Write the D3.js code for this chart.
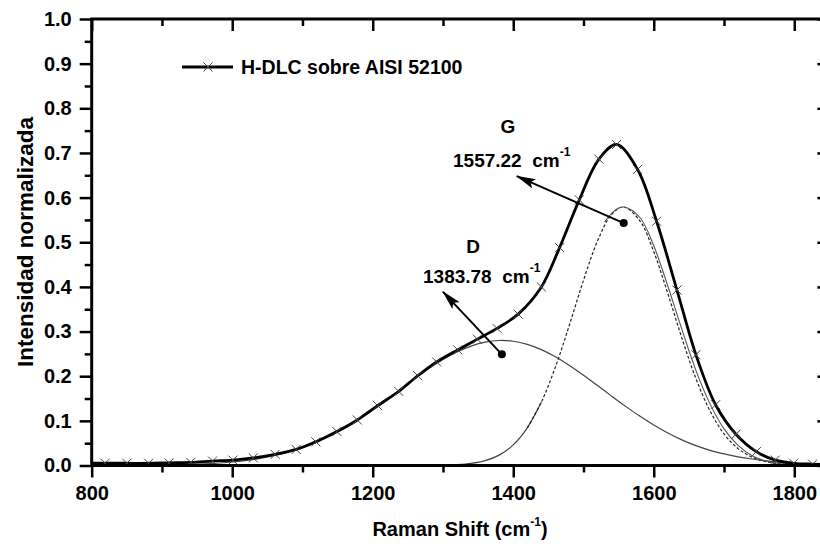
<!DOCTYPE html>
<html>
<head>
<meta charset="utf-8">
<script src="https://cdn.jsdelivr.net/npm/d3@7"></script>
<style>
  body { margin: 0; background: #fff; }
  svg { display: block; }
  text { font-family: "Liberation Sans", Arial, sans-serif; font-weight: bold; fill: #000; }
</style>
</head>
<body>
<svg id="chart" width="820" height="544"></svg>
<script>
// Measured Raman spectrum (normalised), one entry per plotted point
const ramanShift = [790, 819, 850, 881, 910, 941, 972, 1001, 1030, 1061, 1091, 1119, 1149, 1178, 1207, 1237, 1264, 1291, 1321, 1349, 1377, 1407, 1440, 1466, 1494, 1522, 1547, 1577, 1604, 1633, 1660, 1688, 1717, 1746, 1773, 1799, 1826, 1853];
const intensity  = [0.005, 0.005, 0.005, 0.005, 0.006, 0.007, 0.010, 0.012, 0.017, 0.025, 0.036, 0.053, 0.076, 0.102, 0.134, 0.166, 0.201, 0.232, 0.259, 0.283, 0.307, 0.339, 0.400, 0.488, 0.595, 0.686, 0.719, 0.663, 0.547, 0.393, 0.248, 0.136, 0.070, 0.031, 0.012, 0.005, 0.003, 0.002];

// Fitted D band
const dShift = [800, 840, 880, 920, 960, 1000, 1040, 1080, 1120, 1160, 1200, 1240, 1280, 1300, 1320, 1340, 1360, 1380, 1400, 1420, 1440, 1460, 1480, 1500, 1520, 1540, 1560, 1580, 1600, 1620, 1640, 1660, 1680, 1700, 1720, 1740, 1760, 1780, 1800, 1820, 1840];
const dBand  = [0.0001, 0.0002, 0.0006, 0.0015, 0.0036, 0.0079, 0.0160, 0.0300, 0.0519, 0.0832, 0.1235, 0.1700, 0.2170, 0.2375, 0.2545, 0.2675, 0.2763, 0.2800, 0.2783, 0.2714, 0.2596, 0.2435, 0.2241, 0.2022, 0.1790, 0.1554, 0.1324, 0.1106, 0.0906, 0.0728, 0.0574, 0.0444, 0.0340, 0.0260, 0.0195, 0.0145, 0.0105, 0.0072, 0.0048, 0.0030, 0.0020];

// Fitted G band (dashed)
const gShift = [1300, 1320, 1340, 1360, 1380, 1400, 1420, 1440, 1460, 1480, 1500, 1520, 1540, 1557, 1580, 1600, 1620, 1640, 1660, 1680, 1700, 1720, 1740, 1760, 1780, 1800, 1820, 1840];
const gBand  = [0.0007, 0.0018, 0.0046, 0.0108, 0.0232, 0.0461, 0.0843, 0.1420, 0.2204, 0.3150, 0.4148, 0.5031, 0.5621, 0.5790, 0.5484, 0.4789, 0.3852, 0.2855, 0.1948, 0.1225, 0.0709, 0.0378, 0.0186, 0.0084, 0.0035, 0.0013, 0.0005, 0.0002];

// G band fit envelope on the high-shift side (thin solid)
const gEnvShift = [1530, 1545, 1557, 1580, 1600, 1620, 1640, 1660, 1680, 1700, 1720, 1740, 1760, 1780, 1800];
const gEnvelope = [0.5450, 0.5720, 0.5790, 0.5560, 0.4920, 0.4020, 0.3050, 0.2130, 0.1380, 0.0820, 0.0450, 0.0220, 0.0100, 0.0040, 0.0015];

// Band centres and annotation anchors
const bandNames   = ["D", "G"];
const bandCentres = [1383.78, 1557.22];
const bandDotY    = [0.249, 0.543];
const arrowTipX   = [1300, 1405];
const arrowTipY   = [0.389, 0.648];

const xMajor = [800, 1000, 1200, 1400, 1600, 1800];
const xMinor = [900, 1100, 1300, 1500, 1700];
const yMajor = [0, 0.1, 0.2, 0.3, 0.4, 0.5, 0.6, 0.7, 0.8, 0.9, 1.0];
const yMinor = [0.05, 0.15, 0.25, 0.35, 0.45, 0.55, 0.65, 0.75, 0.85, 0.95];

const legendLabel = "H-DLC sobre AISI 52100";

const svg = d3.select("#chart");
const x = d3.scaleLinear().domain([800, 1850]).range([91.7, 829.4]);
const y = d3.scaleLinear().domain([0, 1]).range([465.5, 19]);
const [x0, x1] = x.range();
const [yb, yt] = y.range();

const defs = svg.append("defs");
defs.append("clipPath").attr("id", "plot-clip")
  .append("rect").attr("x", x0).attr("y", yt).attr("width", x1 - x0).attr("height", yb - yt);

defs.append("marker")
  .attr("id", "arrowhead").attr("viewBox", "0 0 20 10")
  .attr("refX", 19).attr("refY", 5)
  .attr("markerUnits", "userSpaceOnUse")
  .attr("markerWidth", 20).attr("markerHeight", 10)
  .attr("orient", "auto")
  .append("path").attr("d", "M0,0 L20,5 L0,10 L4,5 Z").attr("fill", "#000");

// Axes: ticks outside on bottom/left, inside on top/right
function styleAxis(g) {
  g.select(".domain").remove();
  g.selectAll(".tick line").attr("stroke", "#000").attr("stroke-width", 2.5);
  g.selectAll(".tick text").attr("font-size", 20).attr("font-weight", "bold")
    .attr("font-family", "Liberation Sans, Arial, sans-serif").attr("fill", "#000");
}

svg.append("g").attr("transform", `translate(0,${yb})`)
  .call(d3.axisBottom(x).tickValues(xMajor).tickSize(12).tickPadding(8).tickFormat(d3.format("d")))
  .call(styleAxis);
svg.append("g").attr("transform", `translate(0,${yb})`)
  .call(d3.axisBottom(x).tickValues(xMinor).tickSize(7).tickFormat(""))
  .call(styleAxis);
svg.append("g").attr("transform", `translate(0,${yt})`)
  .call(d3.axisBottom(x).tickValues(xMajor).tickSize(12).tickFormat(""))
  .call(styleAxis);
svg.append("g").attr("transform", `translate(0,${yt})`)
  .call(d3.axisBottom(x).tickValues(xMinor).tickSize(7).tickFormat(""))
  .call(styleAxis);

svg.append("g").attr("transform", `translate(${x0},0)`)
  .call(d3.axisLeft(y).tickValues(yMajor).tickSize(12).tickPadding(8).tickFormat(d3.format(".1f")))
  .call(styleAxis);
svg.append("g").attr("transform", `translate(${x0},0)`)
  .call(d3.axisLeft(y).tickValues(yMinor).tickSize(7).tickFormat(""))
  .call(styleAxis);
svg.append("g").attr("transform", `translate(${x1},0)`)
  .call(d3.axisRight(y).tickValues(yMajor).tickSize(-12).tickFormat(""))
  .call(styleAxis);
svg.append("g").attr("transform", `translate(${x1},0)`)
  .call(d3.axisRight(y).tickValues(yMinor).tickSize(-7).tickFormat(""))
  .call(styleAxis);

// Curves
const plot = svg.append("g").attr("clip-path", "url(#plot-clip)");
const line = d3.line().x(d => x(d[0])).y(d => y(d[1])).curve(d3.curveCatmullRom.alpha(0.5));

const dPts = dShift.map((v, i) => [v, dBand[i]]);
const gPts = gShift.map((v, i) => [v, gBand[i]]);
const ePts = gEnvShift.map((v, i) => [v, gEnvelope[i]]);
const sPts = ramanShift.map((v, i) => [v, intensity[i]]);

plot.append("path").datum(dPts).attr("d", line)
  .attr("fill", "none").attr("stroke", "#444").attr("stroke-width", 1.2);
// G band: solid foot, dashed body
plot.append("path").datum(gPts.filter(d => d[0] <= 1440)).attr("d", line)
  .attr("fill", "none").attr("stroke", "#444").attr("stroke-width", 1.2);
plot.append("path").datum(gPts.filter(d => d[0] >= 1420)).attr("d", line)
  .attr("fill", "none").attr("stroke", "#222").attr("stroke-width", 1.2)
  .attr("stroke-dasharray", "3,2");
plot.append("path").datum(ePts).attr("d", line)
  .attr("fill", "none").attr("stroke", "#555").attr("stroke-width", 1.1);

plot.append("path").datum(sPts).attr("d", line)
  .attr("fill", "none").attr("stroke", "#000").attr("stroke-width", 2.8);

const cross = d3.symbol().type(d3.symbolX).size(55);
plot.selectAll(".pt").data(sPts).join("path")
  .attr("class", "pt")
  .attr("transform", d => `translate(${x(d[0])},${y(d[1])})`)
  .attr("d", cross).attr("fill", "none").attr("stroke", "#444").attr("stroke-width", 1);

// Frame
svg.append("rect").attr("x", x0).attr("y", yt).attr("width", x1 - x0).attr("height", yb - yt)
  .attr("fill", "none").attr("stroke", "#000").attr("stroke-width", 3);

// Band annotations: dot at the fitted centre, arrow to the label
const labelPos = [{name: [473, 253], value: [423, 283]}, {name: [508, 133], value: [453, 167]}];
bandNames.forEach((name, i) => {
  const cx = x(bandCentres[i]), cy = y(bandDotY[i]);
  svg.append("line").attr("x1", cx).attr("y1", cy)
    .attr("x2", x(arrowTipX[i])).attr("y2", y(arrowTipY[i]))
    .attr("stroke", "#000").attr("stroke-width", 2)
    .attr("marker-end", "url(#arrowhead)");
  svg.append("circle").attr("cx", cx).attr("cy", cy).attr("r", 4).attr("fill", "#000");
  svg.append("text").attr("x", labelPos[i].name[0]).attr("y", labelPos[i].name[1])
    .attr("text-anchor", "middle").attr("font-size", 19).text(name);
  const t = svg.append("text").attr("x", labelPos[i].value[0]).attr("y", labelPos[i].value[1])
    .attr("font-size", 19).attr("xml:space", "preserve");
  t.append("tspan").text(d3.format(".2f")(bandCentres[i]) + "  cm");
  t.append("tspan").attr("dy", -11).attr("font-size", 12).text("-1");
});

// Legend
const lg = svg.append("g");
lg.append("line").attr("x1", 182).attr("x2", 233).attr("y1", 67).attr("y2", 67)
  .attr("stroke", "#000").attr("stroke-width", 2.8);
lg.append("path").attr("transform", "translate(208,67)").attr("d", cross)
  .attr("fill", "none").attr("stroke", "#444").attr("stroke-width", 1);
lg.append("text").attr("x", 241).attr("y", 74).attr("font-size", 19.5).text(legendLabel);

// Axis titles
const xt = svg.append("text").attr("x", 460).attr("y", 536).attr("text-anchor", "middle").attr("font-size", 20);
xt.append("tspan").text("Raman Shift (cm");
xt.append("tspan").attr("dy", -10).attr("font-size", 12).text("-1");
xt.append("tspan").attr("dy", 10).text(")");

svg.append("text").attr("transform", "translate(33,242) rotate(-90)")
  .attr("text-anchor", "middle").attr("font-size", 22.5).text("Intensidad normalizada");
</script>
</body>
</html>
